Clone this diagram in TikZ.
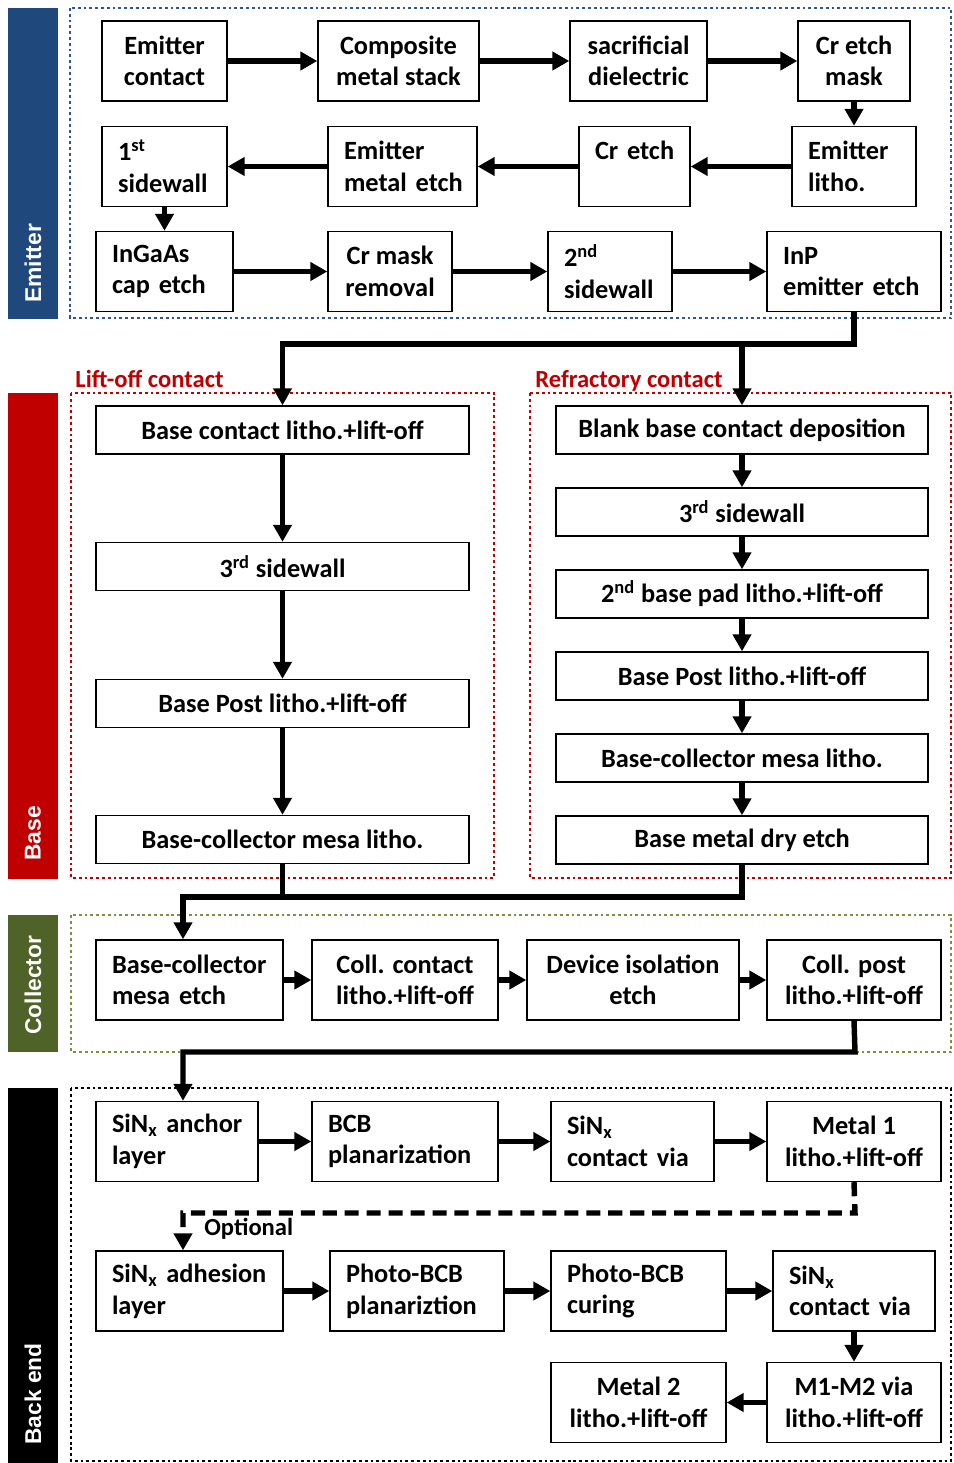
\documentclass[tikz,border=0pt]{standalone}
\usepackage{fontspec}
\setmainfont{Carlito}
\newfontfamily\bandfont{Liberation Sans}
\usetikzlibrary{arrows.meta}

\definecolor{emblue}{RGB}{31,73,125}
\definecolor{emdots}{RGB}{47,85,151}
\definecolor{basered}{RGB}{192,0,0}
\definecolor{colgreen}{RGB}{79,98,40}
\definecolor{coldots}{RGB}{119,147,60}

\newcommand{\boxfont}{\bfseries\fontsize{15}{18}\selectfont}

\begin{document}
\begin{tikzpicture}[x=0.02cm, y=-0.02cm, >={Triangle[length=0.34cm,width=0.36cm]},
    box/.style={draw, line width=0.8pt, font=\boxfont, inner xsep=0.32cm, inner ysep=0pt, minimum height=1.6cm},
    lbox/.style={box, align=left, text width=#1},
    cbox/.style={box, align=center, minimum width=#1},
    wbox/.style={box, align=center, minimum width=#1, minimum height=0.96cm},
    flow/.style={->, line width=3.1pt},
    frame/.style={line width=1.6pt, dash pattern=on 1.6pt off 1.7pt},
    band/.style={rotate=90, anchor=west, inner sep=0pt, text=white, font=\bandfont\bfseries\fontsize{13}{15}\selectfont},
    group/.style={anchor=base west, inner sep=0pt, text=basered, font=\bfseries\fontsize{14}{17}\selectfont}]
    \useasboundingbox (0,0) rectangle (953,1463);

    % side bands and dotted frames
    \fill[emblue] (8,8) rectangle (58,319);
    \fill[basered] (8,393) rectangle (58,879);
    \fill[colgreen] (8,915) rectangle (58,1052);
    \fill[black] (8,1088) rectangle (58,1463);
    \node[band] (embt) at (33,303) {Emitter};
    \node[band] (babt) at (33,861) {Base};
    \node[band] (cobt) at (33,1035) {Collector};
    \node[band] (bebt) at (33,1445) {Back end};
    \draw[frame, emdots] (70,8) rectangle (951,318);
    \draw[frame, basered] (71,393) rectangle (494,878);
    \draw[frame, basered] (530,393) rectangle (951,878);
    \draw[frame, coldots] (71,915) rectangle (951,1052);
    \draw[frame, black] (71,1088) rectangle (951,1461);
    \node[group] (lot) at (75,387) {Lift-off contact};
    \node[group] (rft) at (535,387) {Refractory contact};

    % emitter
    \node[cbox=2.5cm] (ec) at (164.5,61) {Emitter\\contact};
    \node[cbox=3.22cm] (cms) at (398.5,61) {Composite\\metal stack};
    \node[cbox=2.74cm] (sd) at (638.5,61) {sacrificial\\dielectric};
    \node[cbox=2.24cm] (cem) at (854,61) {Cr etch\\mask};
    \node[lbox=1.86cm] (fs) at (164.5,166.5) {1\textsuperscript{st}\\sidewall};
    \node[lbox=2.34cm] (eme) at (402.5,166.5) {Emitter\\\mbox{metal etch}};
    \node[lbox=1.58cm] (cre) at (634.5,166.5) {\mbox{Cr etch}\\ \mbox{}};
    \node[lbox=1.84cm] (el) at (854,166.5) {Emitter\\litho.};
    \node[lbox=2.1cm] (ice) at (164.5,271.5) {InGaAs\\\mbox{cap etch}};
    \node[cbox=2.48cm] (cmr) at (390,271.5) {Cr mask\\removal};
    \node[lbox=1.84cm] (ss) at (610,271.5) {2\textsuperscript{nd}\\sidewall};
    \node[lbox=2.84cm] (iee) at (854,271.5) {InP\\\mbox{emitter etch}};
    \draw[flow] (ec) -- (cms);
    \draw[flow] (cms) -- (sd);
    \draw[flow] (sd) -- (cem);
    \draw[flow] (cem) -- (el);
    \draw[flow] (el) -- (cre);
    \draw[flow] (cre) -- (eme);
    \draw[flow] (eme) -- (fs);
    \draw[flow] (fs) -- (ice);
    \draw[flow] (ice) -- (cmr);
    \draw[flow] (cmr) -- (ss);
    \draw[flow] (ss) -- (iee);

    % base
    \node[wbox=7.46cm] (bcl) at (282.5,430) {Base contact litho.+lift-off};
    \node[wbox=7.46cm] (lsw) at (282.5,566.5) {3\textsuperscript{rd} sidewall};
    \node[wbox=7.46cm] (lbp) at (282.5,703.5) {Base Post litho.+lift-off};
    \node[wbox=7.46cm] (lbm) at (282.5,839.5) {Base-collector mesa litho.};
    \node[wbox=7.44cm] (bbc) at (742,430) {Blank base contact deposition};
    \node[wbox=7.44cm] (rsw) at (742,512) {3\textsuperscript{rd} sidewall};
    \node[wbox=7.44cm] (bpl) at (742,594) {2\textsuperscript{nd} base pad litho.+lift-off};
    \node[wbox=7.44cm] (rbp) at (742,676) {Base Post litho.+lift-off};
    \node[wbox=7.44cm] (rbm) at (742,758) {Base-collector mesa litho.};
    \node[wbox=7.44cm] (bme) at (742,840) {Base metal dry etch};
    \coordinate (ebj) at (854,344);
    \draw[flow] (iee.south) -- (ebj) -| (bcl.north);
    \draw[flow] (bbc.north |- ebj) -- (bbc.north);
    \draw[flow] (bcl) -- (lsw);
    \draw[flow] (lsw) -- (lbp);
    \draw[flow] (lbp) -- (lbm);
    \draw[flow] (bbc) -- (rsw);
    \draw[flow] (rsw) -- (bpl);
    \draw[flow] (bpl) -- (rbp);
    \draw[flow] (rbp) -- (rbm);
    \draw[flow] (rbm) -- (bme);

    % collector
    \node[lbox=3.1cm] (bce) at (189.5,980) {Base-collector\\\mbox{mesa etch}};
    \node[cbox=3.72cm] (ccl) at (405,980) {Coll. contact\\litho.+lift-off};
    \node[cbox=4.24cm] (die) at (633,980) {Device isolation\\etch};
    \node[cbox=3.48cm] (cpl) at (854,980) {Coll. post\\litho.+lift-off};
    \coordinate (bcj) at (742,897);
    \draw[line width=3.1pt] (lbm.south) -- (lbm.south |- bcj);
    \draw[flow] (bme.south) -- (bcj) -| ([xshift=-0.13cm]bce.north);
    \draw[flow] (bce) -- (ccl);
    \draw[flow] (ccl) -- (die);
    \draw[flow] (die) -- (cpl);

    % back end
    \node[lbox=2.6cm] (sal) at (177,1141.5) {\mbox{SiN\textsubscript{x} anchor}\\layer};
    \node[lbox=3.08cm] (bcb) at (405,1141.5) {BCB\\planarization};
    \node[lbox=2.62cm] (scv) at (632.5,1141.5) {SiN\textsubscript{x}\\\mbox{contact via}};
    \node[cbox=3.48cm] (mo) at (854,1141.5) {Metal 1\\litho.+lift-off};
    \node[lbox=3.1cm] (sad) at (189.5,1291) {\mbox{SiN\textsubscript{x} adhesion}\\layer};
    \node[lbox=2.84cm] (pbp) at (417,1291) {Photo-BCB\\planariztion};
    \node[lbox=2.86cm] (pbc) at (638.5,1291) {Photo-BCB\\curing};
    \node[lbox=2.6cm] (scw) at (854,1291) {SiN\textsubscript{x}\\\mbox{contact via}};
    \node[cbox=3.5cm] (mt) at (638.5,1402.5) {Metal 2\\litho.+lift-off};
    \node[cbox=3.48cm] (mmv) at (854,1402.5) {M1-M2 via\\litho.+lift-off};
    \coordinate (cbj) at (855,1052);
    \draw[flow] (cpl.south) -- (cbj) -| ([xshift=0.12cm]sal.north);
    \draw[flow] (sal) -- (bcb);
    \draw[flow] (bcb) -- (scv);
    \draw[flow] (scv) -- (mo);
    \coordinate (opj) at (855,1213);
    \draw[flow, dash pattern=on 8pt off 4.5pt] (mo.south) -- (opj) -| ([xshift=-0.13cm]sad.north);
    \node[anchor=west, inner sep=0pt, font=\bfseries\fontsize{14}{17}\selectfont] (opt) at (204,1229) {Optional};
    \draw[flow] (sad) -- (pbp);
    \draw[flow] (pbp) -- (pbc);
    \draw[flow] (pbc) -- (scw);
    \draw[flow] (scw) -- (mmv);
    \draw[flow] (mmv) -- (mt);
\end{tikzpicture}
\end{document}
